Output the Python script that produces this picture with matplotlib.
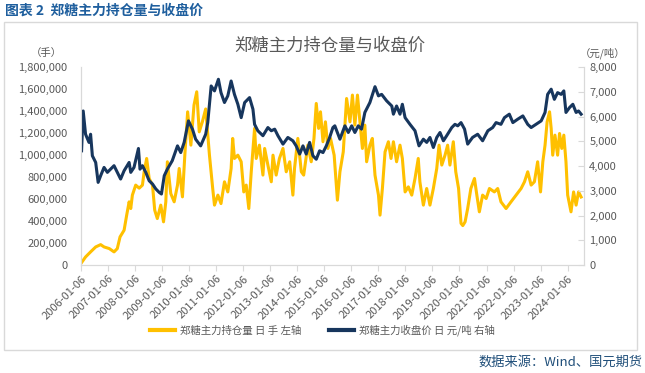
# 郑糖主力持仓量与收盘价 chart
# values

import pandas as pd
import matplotlib
matplotlib.use("Agg")
import matplotlib.pyplot as plt
from matplotlib.patches import Rectangle
from matplotlib.ticker import FuncFormatter

plt.rcParams['font.family'] = ['Noto Sans CJK SC', 'DejaVu Sans']

# DATA
###################################
price_dates = [
    "2006-01-10", "2006-02-01", "2006-03-05", "2006-04-20", "2006-05-12", "2006-06-05",
    "2006-07-20", "2006-08-22", "2006-09-25", "2006-11-10", "2006-12-25", "2007-02-06",
    "2007-03-25", "2007-05-08", "2007-06-22", "2007-08-08", "2007-10-15", "2007-11-06",
    "2007-12-20", "2008-02-18", "2008-03-10", "2008-04-12", "2008-05-27", "2008-07-12",
    "2008-08-26", "2008-10-10", "2008-11-25", "2008-12-25", "2009-02-01", "2009-03-15",
    "2009-05-20", "2009-07-30", "2009-09-12", "2009-10-28", "2009-12-25", "2010-02-18",
    "2010-04-01", "2010-06-08", "2010-08-15", "2010-09-12", "2010-10-28", "2010-12-12",
    "2011-02-03", "2011-03-10", "2011-04-26", "2011-06-10", "2011-07-25", "2011-09-08",
    "2011-10-24", "2011-12-08", "2012-01-24", "2012-03-30", "2012-05-15", "2012-06-06",
    "2012-07-20", "2012-09-27", "2012-12-03", "2013-01-18", "2013-03-05", "2013-04-18",
    "2013-06-25", "2013-08-30", "2013-11-06", "2013-12-20", "2014-02-06", "2014-03-22",
    "2014-05-05", "2014-06-20", "2014-08-04", "2014-09-18", "2014-11-02", "2014-12-18",
    "2015-02-01", "2015-03-18", "2015-05-01", "2015-05-27", "2015-08-04", "2015-10-10",
    "2015-11-25", "2016-01-10", "2016-02-22", "2016-04-08", "2016-05-22", "2016-07-06",
    "2016-09-12", "2016-11-20", "2017-01-06", "2017-02-18", "2017-04-26", "2017-07-05",
    "2017-07-27", "2017-09-08", "2017-10-24", "2017-11-25", "2018-01-01", "2018-03-08",
    "2018-05-15", "2018-07-08", "2018-09-05", "2018-10-20", "2018-12-03", "2019-01-18",
    "2019-03-05", "2019-04-18", "2019-06-03", "2019-07-17", "2019-09-24", "2019-11-06",
    "2019-12-14", "2020-01-27", "2020-03-15", "2020-04-26", "2020-07-01", "2020-09-08",
    "2020-11-14", "2021-01-24", "2021-03-30", "2021-05-15", "2021-07-20", "2021-09-05",
    "2021-11-10", "2021-12-28", "2022-03-05", "2022-05-12", "2022-07-17", "2022-09-01",
    "2022-11-06", "2023-01-15", "2023-03-08", "2023-04-12", "2023-05-30", "2023-07-12",
    "2023-08-25", "2023-10-12", "2023-11-17", "2023-12-16", "2024-02-03", "2024-03-18",
    "2024-05-01", "2024-06-03", "2024-07-08",
]
price_values = [
    4620, 6230, 5290, 4960, 5290, 4420,
    4150, 3345, 3615, 3950, 3750, 3880,
    4020, 3750, 3480, 3815, 4150, 3750,
    3950, 4715, 3880, 4020, 3750, 3410,
    3280, 3080, 2940, 2875, 3615, 3880,
    4220, 4820, 4550, 4960, 5830, 5490,
    5090, 4820, 5290, 5760, 7240, 7040,
    7510, 6970, 6570, 6840, 7440, 6900,
    6500, 5960, 6570, 6770, 6300, 5690,
    5430, 5230, 5560, 5430, 5495, 5230,
    4890, 5160, 5025, 4820, 4490, 4820,
    4490, 4960, 4420, 4280, 4620, 4550,
    4820, 5160, 5560, 5630, 5090, 5630,
    5360, 5630, 5360, 5630, 5495, 6170,
    6570, 7210, 6840, 6900, 6640, 6430,
    6100, 6430, 6100, 6500, 5960, 5690,
    5430, 4820, 5090, 4960, 5160, 4755,
    5160, 5360, 5025, 5230, 5560, 5690,
    5630, 5760, 5495, 4890, 5160, 5290,
    5025, 5430, 5560, 5760, 5690, 5960,
    6100, 5760, 5900, 6030, 5690, 5560,
    5690, 5830, 6170, 6900, 7110, 6700,
    6970, 6900, 7040, 6170, 6370, 6500,
    6170, 6230, 6100,
]

oi_dates = [
    "2006-01-06", "2006-03-05", "2006-05-12", "2006-07-20", "2006-09-25", "2006-11-10",
    "2007-01-20", "2007-03-25", "2007-05-08", "2007-06-14", "2007-08-08", "2007-09-12",
    "2007-10-15", "2007-11-06", "2007-11-28", "2008-01-12", "2008-02-28", "2008-04-12",
    "2008-05-05", "2008-06-08", "2008-07-12", "2008-08-26", "2008-09-25", "2008-10-30",
    "2008-12-16", "2009-01-22", "2009-02-22", "2009-03-15", "2009-04-30", "2009-06-15",
    "2009-07-30", "2009-08-22", "2009-10-05", "2009-11-06", "2009-12-14", "2010-01-27",
    "2010-03-10", "2010-04-16", "2010-05-20", "2010-07-01", "2010-08-15", "2010-10-05",
    "2010-11-18", "2010-12-12", "2011-01-27", "2011-03-10", "2011-04-26", "2011-06-10",
    "2011-07-25", "2011-08-15", "2011-09-08", "2011-10-24", "2011-12-08", "2012-01-12",
    "2012-02-14", "2012-03-20", "2012-04-22", "2012-06-06", "2012-06-28", "2012-08-10",
    "2012-09-27", "2012-10-20", "2012-12-03", "2013-01-18", "2013-02-10", "2013-03-25",
    "2013-05-08", "2013-06-25", "2013-08-08", "2013-09-24", "2013-11-06", "2013-11-28",
    "2014-01-12", "2014-02-28", "2014-04-01", "2014-05-27", "2014-07-12", "2014-08-18",
    "2014-09-18", "2014-10-20", "2014-11-14", "2014-12-18", "2015-01-20", "2015-02-22",
    "2015-03-30", "2015-05-18", "2015-07-01", "2015-08-04", "2015-09-18", "2015-11-02",
    "2015-12-18", "2016-01-20", "2016-02-22", "2016-03-28", "2016-05-01", "2016-06-03",
    "2016-07-06", "2016-07-30", "2016-09-12", "2016-10-15", "2016-11-20", "2017-01-06",
    "2017-01-27", "2017-02-28", "2017-04-05", "2017-05-20", "2017-06-25", "2017-07-27",
    "2017-09-08", "2017-10-24", "2017-11-25", "2018-01-01", "2018-02-14", "2018-04-01",
    "2018-05-15", "2018-06-28", "2018-07-20", "2018-09-05", "2018-10-20", "2018-12-03",
    "2019-01-18", "2019-03-05", "2019-04-05", "2019-05-12", "2019-06-25", "2019-07-30",
    "2019-08-30", "2019-10-15", "2019-11-17", "2019-12-25", "2020-01-27", "2020-02-20",
    "2020-03-22", "2020-04-26", "2020-06-08", "2020-07-27", "2020-08-28", "2020-10-01",
    "2020-11-14", "2021-01-01", "2021-02-14", "2021-04-22", "2021-06-06", "2021-07-20",
    "2021-09-27", "2021-12-03", "2022-02-10", "2022-04-18", "2022-06-03", "2022-07-17",
    "2022-09-01", "2022-10-15", "2022-11-28", "2023-01-06", "2023-02-06", "2023-03-08",
    "2023-04-05", "2023-05-08", "2023-05-30", "2023-06-20", "2023-07-20", "2023-08-25",
    "2023-09-20", "2023-10-20", "2023-11-17", "2023-12-16", "2024-01-08", "2024-02-22",
    "2024-03-28", "2024-05-01", "2024-06-03", "2024-07-08",
]
oi_values = [
    20000, 75000, 121000, 166000, 187000, 166000,
    151000, 121000, 151000, 257000, 318000, 455000,
    576000, 515000, 637000, 728000, 700000, 728000,
    849000, 970000, 788000, 728000, 500000, 424000,
    546000, 394000, 576000, 940000, 651000, 576000,
    728000, 879000, 621000, 1000000, 1394000, 1091000,
    1455000, 1576000, 1212000, 1303000, 1420000, 1000000,
    697000, 546000, 637000, 560000, 758000, 666000,
    879000, 1152000, 970000, 1000000, 940000, 666000,
    728000, 515000, 849000, 1243000, 970000, 1091000,
    819000, 1061000, 910000, 758000, 1000000, 819000,
    970000, 1061000, 849000, 940000, 637000, 879000,
    1152000, 849000, 819000, 1091000, 940000, 1152000,
    1470000, 1243000, 1394000, 1122000, 1303000, 1061000,
    1152000, 1000000, 591000, 849000, 1030000, 1515000,
    1303000, 1546000, 1273000, 1546000, 1303000, 1061000,
    1273000, 940000, 1091000, 1152000, 819000, 637000,
    455000, 697000, 1030000, 1122000, 970000, 1122000,
    940000, 1091000, 970000, 666000, 712000, 637000,
    788000, 970000, 758000, 546000, 697000, 546000,
    697000, 879000, 1091000, 910000, 1000000, 1091000,
    910000, 1122000, 849000, 697000, 380000, 360000,
    394000, 515000, 697000, 788000, 637000, 485000,
    637000, 606000, 697000, 666000, 697000, 576000,
    515000, 576000, 637000, 697000, 758000, 849000,
    728000, 758000, 940000, 666000, 940000, 1091000,
    1303000, 1394000, 1243000, 1000000, 1182000, 1000000,
    1197000, 1061000, 1182000, 940000, 637000, 485000,
    666000, 546000, 666000, 620000,
]

tick_years = list(range(2006, 2025))

# STYLE
###################################
YELLOW = "#FFC000"
NAVY = "#17365D"
GREY = "#595959"
TITLE_BLUE = "#1F5F9E"

# FIGURE
###################################
fig = plt.figure(figsize=(6.45, 3.73), dpi=100)
ax = fig.add_axes([0.126, 0.289, 0.779, 0.531])
ax2 = ax.twinx()

ax.plot(pd.to_datetime(oi_dates), oi_values, color=YELLOW, lw=2.2,
        label="郑糖主力持仓量 日 手 左轴")
ax2.plot(pd.to_datetime(price_dates), price_values, color=NAVY, lw=2.2,
         label="郑糖主力收盘价 日 元/吨 右轴")

ax.set_ylim(0, 1800000)
ax.set_yticks(range(0, 1800001, 200000))
ax.yaxis.set_major_formatter(FuncFormatter(lambda v, p: f"{int(v):,}"))
ax2.set_ylim(0, 8000)
ax2.set_yticks(range(0, 8001, 1000))
ax2.yaxis.set_major_formatter(FuncFormatter(lambda v, p: f"{int(v):,}"))

ticks = [pd.Timestamp(f"{y}-01-06") for y in tick_years]
ax.set_xlim(pd.Timestamp("2006-01-06"), pd.Timestamp("2024-08-12"))
ax.set_xticks(ticks)
ax.set_xticklabels([t.strftime("%Y-%m-%d") for t in ticks], rotation=45,
                   ha="right", rotation_mode="anchor")

for a in (ax, ax2):
    a.spines["top"].set_visible(False)
    for s in ("left", "right", "bottom"):
        a.spines[s].set_color("#D9D9D9")
    a.tick_params(colors=GREY, labelsize=8)
ax.tick_params(axis="y", length=0, pad=10)
ax.tick_params(axis="x", length=4, color="#D9D9D9", pad=2)
ax2.tick_params(axis="y", direction="in", length=4, color="#D9D9D9", pad=4)

# texts
fig.text(0.008, 0.972, "图表 2  郑糖主力持仓量与收盘价", color=TITLE_BLUE,
         fontsize=10, fontweight="bold", va="center")
fig.text(0.512, 0.876, "郑糖主力持仓量与收盘价", color=GREY, fontsize=12.5,
         ha="center", va="center")
fig.text(0.072, 0.858, "（手）", color=GREY, fontsize=7.5, ha="center", va="center")
fig.text(0.935, 0.858, "（元/吨）", color=GREY, fontsize=7.5, ha="center", va="center")
fig.text(0.997, 0.028, "数据来源：Wind、国元期货", color="#1F4E79",
         fontsize=9.5, ha="right", va="center")

# frame around the chart
fig.patches.append(Rectangle((0.006, 0.062), 0.982, 0.878, transform=fig.transFigure,
                             fill=False, edgecolor="#D9D9D9", lw=1.0))

h1, l1 = ax.get_legend_handles_labels()
h2, l2 = ax2.get_legend_handles_labels()
leg = fig.legend(h1 + h2, l1 + l2, loc="center", bbox_to_anchor=(0.5, 0.115),
                 ncol=2, frameon=False, fontsize=7.5, handlelength=2.4,
                 columnspacing=2.6, handletextpad=0.5)
for t in leg.get_texts():
    t.set_color(GREY)
for line in leg.get_lines():
    line.set_linewidth(3)

fig.savefig("out.png", dpi=100)
